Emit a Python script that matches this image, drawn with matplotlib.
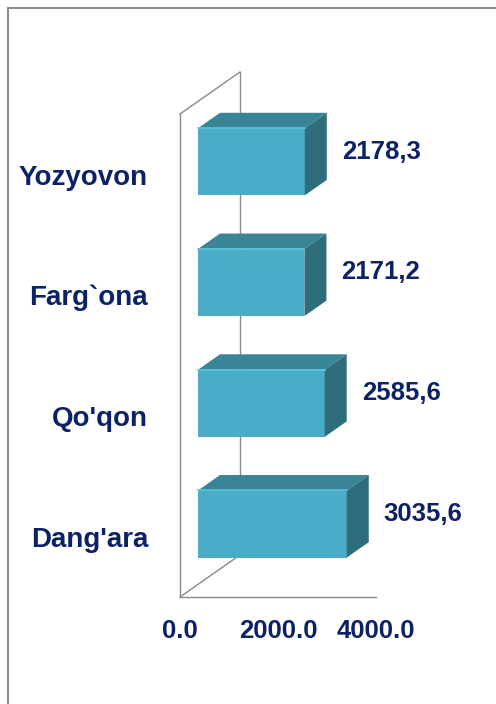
import matplotlib
matplotlib.use("Agg")
import matplotlib.pyplot as plt
from matplotlib.patches import Polygon, Rectangle

# ---- data ----
categories = ["Dang'ara", "Qo'qon", "Farg`ona", "Yozyovon"]
values = [3035.6, 2585.6, 2171.2, 2178.3]
xticks = [0, 2000, 4000]
xtick_labels = ["0.0", "2000.0", "4000.0"]

plt.rcParams['font.family'] = ['Liberation Sans', 'DejaVu Sans']
TXT = '#0B2266'
FRONT = '#4AACC6'
TOP = '#3A8497'
SIDE = '#306D7C'
WALL = '#8a8a8a'

fig = plt.figure(figsize=(4.96, 7.04), dpi=100)
ax = fig.add_axes([180 / 496, 107 / 704, 196 / 496, 483 / 704])
ax.set_xlim(0, 4000)
ax.set_ylim(-0.5, 3.5)
ax.axis('off')

# oblique depth (data units)
dxu, dyu = 1224.5, 0.348
f0, f1 = 0.30, 0.667
h = 0.556

# walls / floor
ax.plot([dxu, dxu], [-0.5 + dyu, 3.5 + dyu], color=WALL, lw=1.0, clip_on=False, zorder=1)
ax.plot([0, 0], [-0.5, 3.5], color=WALL, lw=1.0, clip_on=False, zorder=1)
ax.plot([0, dxu], [3.5, 3.5 + dyu], color=WALL, lw=1.0, clip_on=False, zorder=1)
ax.plot([0, dxu], [-0.5, -0.5 + dyu], color=WALL, lw=1.0, clip_on=False, zorder=1)
ax.plot([0, 4000], [-0.5, -0.5], color=WALL, lw=1.0, clip_on=False, zorder=1)

ox0, oy0 = f0 * dxu, f0 * dyu
ox1, oy1 = f1 * dxu, f1 * dyu
for i, (cat, v) in enumerate(zip(categories, values)):
    y0, y1 = i - h / 2, i + h / 2
    ax.add_patch(Rectangle((ox0, y0 + oy0), v, h, fc=FRONT, ec='none', zorder=3, clip_on=False))
    ax.add_patch(Polygon([(ox0, y1 + oy0), (v + ox0, y1 + oy0), (v + ox1, y1 + oy1), (ox1, y1 + oy1)],
                         closed=True, fc=TOP, ec='none', zorder=3, clip_on=False))
    ax.add_patch(Polygon([(v + ox0, y0 + oy0), (v + ox1, y0 + oy1), (v + ox1, y1 + oy1), (v + ox0, y1 + oy0)],
                         closed=True, fc=SIDE, ec='none', zorder=3, clip_on=False))
    # light highlight on front top edge
    ax.plot([ox0, v + ox0], [y1 + oy0, y1 + oy0], color='#5DC3DB', lw=1.2, zorder=4, clip_on=False)
    # category label
    ax.text(-653, i - 0.085, cat, ha='right', va='baseline', fontsize=20,
            fontweight='bold', color=TXT, clip_on=False)
    # value label
    ax.text(v + ox1 + 306, i + 0.13, f"{v:.1f}".replace('.', ','), ha='left', va='baseline',
            fontsize=18.5, fontweight='bold', color=TXT, clip_on=False)

for xt, lab in zip(xticks, xtick_labels):
    ax.text(xt, -0.84, lab, ha='center', va='baseline', fontsize=18.5,
            fontweight='bold', color=TXT, clip_on=False)

# outer border (only top & left visible)
fig.patches.append(Rectangle((8 / 496, -0.1), 2, 1 - 7.5 / 704 + 0.1, transform=fig.transFigure,
                             fill=False, ec='#8c8c8c', lw=1.5))

fig.savefig('out.png', dpi=100)
